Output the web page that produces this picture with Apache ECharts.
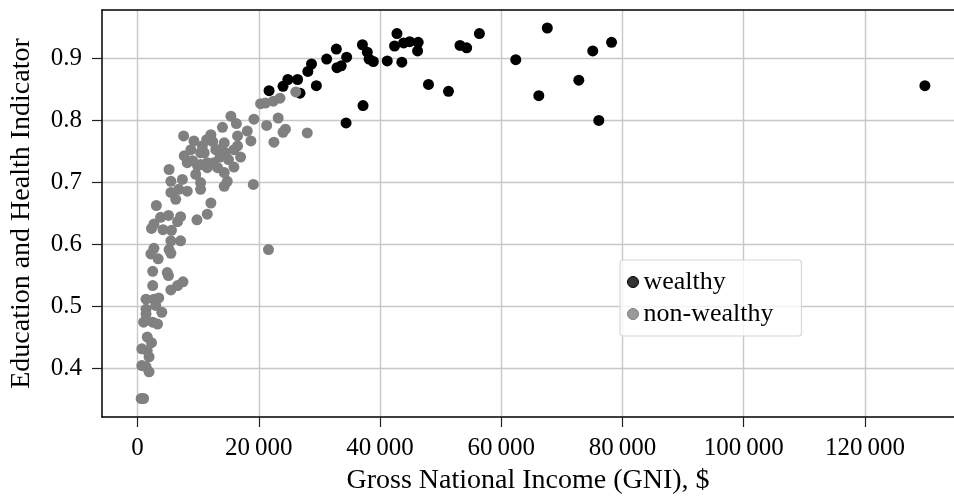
<!DOCTYPE html>
<html>
<head>
<meta charset="utf-8">
<script src="https://cdn.jsdelivr.net/npm/echarts@6/dist/echarts.min.js"></script>
<style>
html,body{margin:0;padding:0;background:#fff;}
#chart{width:954px;height:500px;}
</style>
</head>
<body>
<div id="chart"></div>
<script>
// ---- data ----
var gniWealthy = [21700,24000,24800,26400,26800,28100,28700,29500,31200,32800,32900,33600,34500,34400,37200,37100,37900,38200,38900,41200,42800,42400,43600,43900,44900,46300,46200,48000,51300,53200,54300,56400,62400,66200,67600,72800,75100,76100,78200,129900];
var indWealthy = [0.848,0.855,0.866,0.866,0.844,0.879,0.891,0.856,0.899,0.915,0.885,0.888,0.902,0.796,0.824,0.922,0.910,0.899,0.895,0.896,0.940,0.920,0.894,0.925,0.927,0.926,0.912,0.858,0.847,0.921,0.917,0.940,0.898,0.840,0.949,0.865,0.912,0.800,0.926,0.856];

var gniNonWealthy = [20300,21100,22400,23500,26100,15400,16300,19200,21300,23200,24400,24000,22500,28000,18100,18700,16500,14000,12100,7600,9300,10700,16500,14300,13200,11000,7700,10400,12900,14500,15900,9100,9900,8200,11500,12600,13200,15900,14300,11500,10400,5200,5500,7400,10400,6800,8200,10400,5500,14300,14800,19100,3100,12100,11500,9800,7100,5100,3800,2700,6600,2300,4200,5600,5500,7100,2700,5200,2200,5500,3400,21600,2500,4900,5100,5500,6600,7500,2500,1400,2700,3500,3000,1400,4000,1400,1400,1000,2500,3300,1600,2300,700,1600,1900,700,1400,1900,600,1000,6300,8800,12400,15000,9600,17000,11400,13600];
var indNonWealthy = [0.827,0.828,0.831,0.836,0.846,0.807,0.795,0.802,0.792,0.804,0.786,0.781,0.765,0.780,0.783,0.767,0.775,0.789,0.777,0.775,0.767,0.759,0.759,0.764,0.753,0.748,0.743,0.748,0.753,0.748,0.753,0.735,0.727,0.732,0.732,0.732,0.724,0.725,0.716,0.724,0.729,0.721,0.702,0.705,0.700,0.689,0.686,0.689,0.684,0.694,0.702,0.697,0.663,0.667,0.649,0.640,0.645,0.647,0.644,0.633,0.637,0.626,0.624,0.623,0.606,0.606,0.594,0.592,0.585,0.586,0.577,0.592,0.557,0.555,0.550,0.527,0.534,0.540,0.534,0.512,0.512,0.514,0.502,0.496,0.491,0.488,0.478,0.475,0.475,0.472,0.451,0.442,0.432,0.429,0.419,0.405,0.403,0.395,0.352,0.352,0.673,0.753,0.766,0.737,0.713,0.741,0.769,0.741];

var xTicks = [0,20000,40000,60000,80000,100000,120000];
var yTicks = [0.4,0.5,0.6,0.7,0.8,0.9];
var seriesNames = ['wealthy','non-wealthy'];
var xTitle = 'Gross National Income (GNI), $';
var yTitle = 'Education and Health Indicator';

// ---- build ----
function pairs(xs, ys){ var out=[]; for (var i=0;i<xs.length;i++) out.push([xs[i], ys[i]]); return out; }
var FONT = 'Liberation Serif';
var FS = 25;
var XMIN = -5865, XMAX = 134700;

var chart = echarts.init(document.getElementById('chart'), null, {renderer:'canvas'});
chart.setOption({
  animation:false,
  backgroundColor:'#ffffff',
  grid:{left:101.3, top:10, right:0, bottom:81.3, show:false},
  legend:{
    orient:'vertical', left:620, top:260,
    padding:[9,28,9,7], itemGap:6, itemWidth:11, itemHeight:11,
    borderColor:'#d6d6d6', borderWidth:1.2, borderRadius:3,
    backgroundColor:'rgba(255,255,255,0.8)',
    textStyle:{fontFamily:FONT, fontSize:26, color:'#000', lineHeight:26},
    data:[
      {name:seriesNames[0], icon:'circle', itemStyle:{color:'#333333', borderColor:'#000', borderWidth:1}},
      {name:seriesNames[1], icon:'circle', itemStyle:{color:'#999999', borderColor:'#808080', borderWidth:1}}
    ]
  },
  xAxis:[{
    type:'value', min:XMIN, max:XMAX, position:'bottom',
    name:xTitle, nameLocation:'middle', nameGap:50,
    nameTextStyle:{fontFamily:FONT, fontSize:28, color:'#000'},
    axisLine:{show:true, onZero:false, lineStyle:{color:'#000', width:1.5}},
    axisTick:{show:true, length:10, inside:false, lineStyle:{color:'#222', width:1.2}, customValues:xTicks},
    axisLabel:{fontFamily:FONT, fontSize:FS, color:'#000', margin:19, customValues:xTicks,
      formatter:function(v){ return String(Math.round(v)).replace(/\B(?=(\d{3})+(?!\d))/g,'\u2009'); }},
    splitLine:{show:true, lineStyle:{color:'#c8c8c8', width:1.4}}
  },{
    type:'value', min:XMIN, max:XMAX, position:'top',
    axisLine:{show:true, onZero:false, lineStyle:{color:'#000', width:1.5}},
    axisTick:{show:false}, axisLabel:{show:false}, splitLine:{show:false}
  }],
  yAxis:{
    type:'value', min:0.3222, max:0.978,
    name:yTitle, nameLocation:'middle', nameGap:66, nameRotate:90,
    nameTextStyle:{fontFamily:FONT, fontSize:28, color:'#000'},
    axisLine:{show:true, onZero:false, lineStyle:{color:'#000', width:1.5}},
    axisTick:{show:true, length:10, inside:false, lineStyle:{color:'#222', width:1.2}, customValues:yTicks},
    axisLabel:{fontFamily:FONT, fontSize:FS, color:'#000', margin:20, customValues:yTicks,
      formatter:function(v){ return v.toFixed(1); }},
    splitLine:{show:true, lineStyle:{color:'#c8c8c8', width:1.4}}
  },
  series:[
    {name:seriesNames[0], type:'scatter', symbol:'circle', symbolSize:11, data:pairs(gniWealthy, indWealthy),
     itemStyle:{color:'#000000', opacity:1}, z:2},
    {name:seriesNames[1], type:'scatter', symbol:'circle', symbolSize:11, data:pairs(gniNonWealthy, indNonWealthy),
     itemStyle:{color:'#808080', opacity:1}, z:3}
  ]
});
</script>
</body>
</html>
